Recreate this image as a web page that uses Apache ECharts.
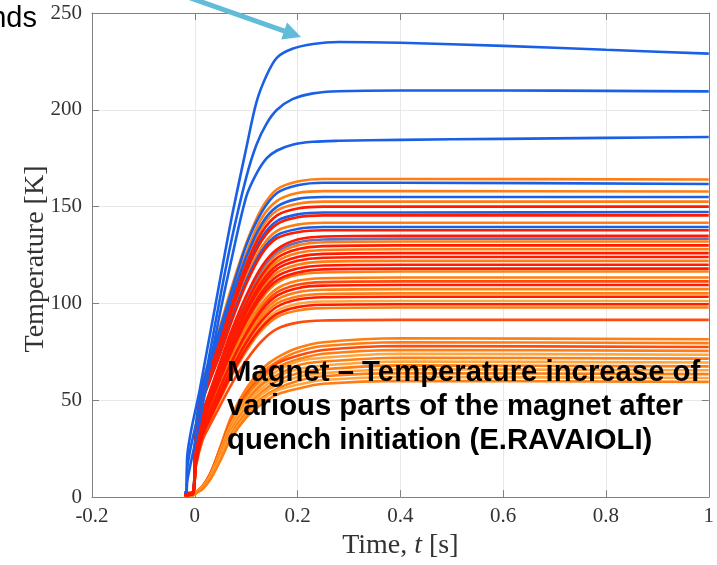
<!doctype html>
<html>
    <head>
        <meta charset="utf-8">
        <title>Magnet temperature</title>
        <style>
            html, body { margin: 0; padding: 0; background: #fff; }
            #main { width: 717px; height: 565px; }
        </style>
    </head>
    <body>
        <div id="main"></div>
        <script src="https://cdn.jsdelivr.net/npm/echarts@6/dist/echarts.min.js"></script>
        <script>
            // time samples [s]
            var tBlue = [-0.02, -0.016, -0.015, 0.01, 0.04, 0.07, 0.1, 0.12, 0.14, 0.16, 0.19, 0.23, 0.28, 0.4, 0.6, 0.8, 1.0];
            var tRise = [-0.02, -0.004, 0.002, 0.015, 0.03, 0.05, 0.07, 0.1, 0.13, 0.16, 0.2, 0.25, 0.4, 1.0];

            // hottest parts (blue, early start)
            var blue235 = [2, 3, 20, 56, 99, 142, 180, 204, 218, 227, 231.5, 234, 235, 234.6, 233, 231, 229];
            var blue210 = [2, 3, 14, 47, 90, 131, 165, 182, 193, 200, 205.5, 208.5, 209.6, 210, 210, 209.8, 209.5];
            var blue186 = [2, 3, 8, 40, 83, 121, 155, 167, 175, 179, 182, 183.5, 184, 184.5, 185, 185.5, 186];

            // blue curves inside the bundle
            var blue162 = [2, 2.4, 35.6, 58, 71, 87.5, 105, 130, 147, 157, 161, 162.3, 162.3, 161.7];
            var blue155 = [2, 2.3, 34, 56, 68, 84, 101, 124, 141, 150, 154, 155, 155, 155];
            var blue147 = [2, 2.2, 32.3, 53, 64.7, 79, 95.5, 117.6, 134, 142.6, 146, 147, 147, 147.2];
            var blue139 = [2, 2.1, 30.7, 50, 61, 75, 90.7, 111.6, 127, 135.3, 138.5, 139.5, 139.5, 139.5];
            var slate133 = [1.3, 2, 22.7, 42.7, 54.7, 69.4, 84, 102.8, 117.5, 126.8, 131.5, 133, 133.5, 133.5];

            // upper orange/red curves
            var or164 = [2, 2.5, 36, 59, 72, 89, 107, 131, 149, 159, 163, 164.3, 164.3, 164];
            var or158 = [2, 2.4, 34.8, 57, 69.5, 85, 103, 126, 144, 153, 157, 158, 158, 157.8];
            var or152 = [2, 2.3, 33.6, 55, 67, 82, 99, 122, 139, 148, 151.5, 152.6, 152.6, 152.6];
            var rd150 = [2, 2.3, 33, 54, 66, 81, 97.5, 120, 136.5, 145.5, 149, 150, 150, 150];
            var rd145 = [2, 2.2, 32, 52, 64, 78.6, 94.6, 116.4, 132.4, 141, 144.5, 145.5, 145.5, 145.5];
            var or141 = [2, 2.1, 31, 51, 62, 76.5, 92, 113, 129, 137.5, 140.7, 141.7, 141.7, 141.7];
            var rd137 = [2, 2.1, 30.3, 49.6, 60.6, 74.4, 89.6, 110, 125.4, 133.7, 136.8, 137.8, 137.8, 137.8];

            // dense band and middle curves
            var rd135 = [1.4, 2, 23, 43, 55, 70, 85, 104, 119, 128, 133, 134.6, 135, 135];
            var or132 = [1.3, 2, 22.4, 42.2, 54, 68.6, 83, 101.6, 116, 125.4, 130, 131.6, 132, 132];
            var rd130 = [1.3, 2, 22, 41.6, 53.3, 67.6, 82, 100, 114.4, 123.5, 128, 129.6, 130, 130];
            var or128 = [1.3, 2, 21.8, 41, 52.5, 66.6, 80.6, 98.6, 112.6, 121.6, 126, 127.6, 128, 128];
            var rd126 = [1.3, 2, 21.4, 40.3, 51.7, 65.5, 79.4, 97, 111, 119.7, 124, 125.6, 126, 126];
            var rd124 = [1.2, 1.9, 21, 39.7, 50.8, 64.5, 78, 95.5, 109, 117.8, 122, 123.6, 124, 124];
            var or122 = [1.2, 1.8, 20.7, 39, 50, 63.4, 76.9, 94, 107.4, 115.9, 120, 121.6, 122, 122];
            var rd120 = [1.2, 1.8, 20.4, 38.4, 49.2, 62.4, 75.6, 92.4, 105.6, 114, 118, 119.6, 120, 120];
            var rd118 = [1.2, 1.8, 20, 37.8, 48.4, 61.4, 74.3, 90.9, 103.8, 112, 116, 117.6, 118, 118];
            var or116 = [1.2, 1.7, 19.8, 37.3, 47.8, 60.6, 73.4, 89.7, 102.5, 110.7, 114.8, 116, 116.5, 116.5];
            var or113 = [1.1, 1.7, 19.3, 36.3, 46.5, 59, 71.4, 87.3, 99.8, 107.7, 111.7, 113, 113.4, 113.4];
            var ord111 = [1.1, 1.7, 18.9, 35.6, 45.7, 57.9, 70.2, 85.8, 98, 105.8, 109.7, 111, 111.4, 111.4];
            var rd109 = [1.1, 1.6, 18.6, 35, 44.9, 57, 69, 84.3, 96.4, 104, 107.9, 109.2, 109.5, 109.5];
            var or107 = [1.1, 1.6, 18.3, 34.4, 44, 55.8, 67.7, 82.7, 94.5, 102, 105.8, 107.1, 107.4, 107.4];
            var or105 = [1.1, 1.6, 17.9, 33.7, 43.1, 54.7, 66.3, 81, 92.6, 100, 103.6, 104.9, 105.2, 105.2];
            var rd103 = [1, 1.6, 17.6, 33.1, 42.4, 53.8, 65.2, 79.7, 91, 98.3, 102, 103.2, 103.5, 103.5];
            var lt101 = [1, 1.5, 17.2, 32.4, 41.5, 52.7, 63.8, 78, 89.1, 96.2, 99.8, 101, 101.3, 101.3];
            var rd99 = [1, 1.5, 16.9, 31.9, 40.8, 51.8, 62.7, 76.7, 87.6, 94.6, 98.1, 99.3, 99.6, 99.6];
            var or98 = [1, 1.5, 16.6, 31.3, 40.1, 50.9, 61.7, 75.4, 86.2, 93, 96.4, 97.6, 97.9, 97.9];
            var rd91 = [1, 1.4, 15.6, 29.3, 37.5, 47.6, 57.6, 70.5, 80.5, 86.9, 90.1, 91.2, 91.5, 91.5];

            // coolest band (slow start)
            var or82 = [1, 1, 2.5, 5.7, 12, 26, 41, 56, 66, 72, 77, 80, 82, 81.5];
            var or80 = [1, 1, 2.4, 5.6, 12, 26, 40, 54, 64, 70, 75, 78, 80, 79.5];
            var ord78 = [1, 1, 2.3, 5.5, 12, 25, 39, 53, 62, 69, 73, 76, 78, 77.5];
            var or76 = [1, 1, 2.3, 5.3, 11, 24, 38, 52, 61, 67, 71, 74, 76, 75.5];
            var lt74 = [1, 1, 2.2, 5.2, 11, 24, 37, 50, 59, 65, 70, 72, 74, 73.5];
            var or72 = [1, 1, 2.2, 5, 11, 23, 36, 49, 58, 63, 68, 70, 72, 71.5];
            var lt70 = [1, 1, 2.1, 4.9, 10.5, 22, 35, 48, 56, 62, 66, 68, 70, 69.5];
            var or68 = [1, 1, 2, 4.8, 10, 22, 34, 46, 54, 60, 64, 66, 68, 67.5];
            var lt66 = [1, 1, 2, 4.6, 10, 21, 33, 45, 53, 58, 62, 64, 66, 65.5];
            var or64 = [1, 1, 2, 4.5, 9.6, 20, 32, 43.5, 51, 56, 60, 62.4, 64, 63.5];
            var lt62 = [1, 1, 2, 4.3, 9.3, 20, 31, 42, 50, 55, 58, 60.5, 62, 61.5];
            var or60 = [1, 1, 2, 4.2, 9, 19, 30, 41, 48, 53, 56, 58.5, 60, 59.5];

            var xTicks = [-0.2, 0, 0.2, 0.4, 0.6, 0.8, 1];
            var yTicks = [0, 50, 100, 150, 200, 250];

            var colors = {
                blue: '#1a60e6',
                slate: '#6b6fb5',
                orange: '#ff7d12',
                red: '#ff1a00',
                orangeRed: '#ff4a0a',
                light: '#ffa63e'
            };

            // drawing order: first drawn lies underneath
            var curves = [
                [tRise, or82, 'orange'], [tRise, or80, 'orange'], [tRise, ord78, 'orangeRed'],
                [tRise, or76, 'orange'], [tRise, lt74, 'light'], [tRise, or72, 'orange'],
                [tRise, lt70, 'light'], [tRise, or68, 'orange'], [tRise, lt66, 'light'],
                [tRise, or64, 'orange'], [tRise, lt62, 'light'], [tRise, or60, 'orange'],
                [tRise, or98, 'orange'], [tRise, lt101, 'light'], [tRise, or105, 'orange'],
                [tRise, or107, 'orange'], [tRise, ord111, 'orangeRed'], [tRise, or113, 'orange'],
                [tRise, or116, 'orange'], [tRise, or122, 'orange'], [tRise, or128, 'orange'],
                [tRise, or132, 'orange'], [tRise, or141, 'orange'], [tRise, or152, 'orange'],
                [tRise, or158, 'orange'], [tRise, or164, 'orange'],
                [tRise, slate133, 'slate'], [tRise, blue139, 'blue'], [tRise, blue147, 'blue'],
                [tRise, blue155, 'blue'], [tRise, blue162, 'blue'],
                [tRise, rd91, 'orangeRed'], [tRise, rd99, 'red'], [tRise, rd103, 'red'],
                [tRise, rd109, 'red'], [tRise, rd118, 'red'], [tRise, rd120, 'red'],
                [tRise, rd124, 'red'], [tRise, rd126, 'red'], [tRise, rd130, 'red'],
                [tRise, rd135, 'red'], [tRise, rd137, 'red'], [tRise, rd145, 'red'],
                [tRise, rd150, 'red'],
                [tBlue, blue186, 'blue'], [tBlue, blue210, 'blue'], [tBlue, blue235, 'blue']
            ];

            var series = curves.map(function (c) {
                return {
                    type: 'line',
                    data: c[0].map(function (t, i) { return [t, c[1][i]]; }),
                    showSymbol: false,
                    smooth: 0.3,
                    silent: true,
                    lineStyle: { color: colors[c[2]], width: 2.6 },
                    z: 2
                };
            });

            var axisGray = '#808080';
            var serif = '"Liberation Serif", "Times New Roman", serif';

            function frameAxis(extra) {
                var a = {
                    type: 'value',
                    axisLine: { show: true, onZero: false, lineStyle: { color: axisGray } },
                    axisTick: { show: true, inside: true, length: 7, lineStyle: { color: axisGray } },
                    axisLabel: { show: false },
                    splitLine: { show: false }
                };
                for (var k in extra) { a[k] = extra[k]; }
                return a;
            }

            var chart = echarts.init(document.getElementById('main'));
            chart.setOption({
                animation: false,
                grid: { left: 92, right: 7, top: 13, bottom: 65 },
                xAxis: [
                    frameAxis({
                        min: xTicks[0],
                        max: xTicks[xTicks.length - 1],
                        interval: 0.2,
                        splitLine: { show: true, lineStyle: { color: '#e8e8e8' } },
                        axisLabel: {
                            margin: 9, color: '#333', fontFamily: serif, fontSize: 21,
                            formatter: function (v) { return String(Math.round(v * 10) / 10); }
                        },
                        name: 'Time, {i|t} [s]',
                        nameLocation: 'middle',
                        nameGap: 27,
                        nameTextStyle: {
                            color: '#333', fontFamily: serif, fontSize: 28,
                            rich: { i: { fontFamily: serif, fontStyle: 'italic', fontSize: 28, color: '#333' } }
                        }
                    }),
                    frameAxis({
                        position: 'top',
                        min: xTicks[0],
                        max: xTicks[xTicks.length - 1],
                        interval: 0.2
                    })
                ],
                yAxis: [
                    frameAxis({
                        min: yTicks[0],
                        max: yTicks[yTicks.length - 1],
                        interval: 50,
                        splitLine: { show: true, lineStyle: { color: '#e8e8e8' } },
                        axisLabel: { margin: 10, color: '#333', fontFamily: serif, fontSize: 21 }
                    }),
                    frameAxis({
                        position: 'right',
                        min: yTicks[0],
                        max: yTicks[yTicks.length - 1],
                        interval: 50
                    })
                ],
                series: series,
                graphic: [
                    {
                        type: 'text',
                        x: 50, y: 259,
                        rotation: Math.PI / 2,
                        z: 20,
                        style: {
                            text: 'Temperature [K]',
                            font: '28px "Liberation Serif", "Times New Roman", serif',
                            fill: '#333',
                            textAlign: 'center',
                            textVerticalAlign: 'bottom'
                        }
                    },
                    {
                        type: 'text',
                        x: 37, y: 4,
                        z: 20,
                        style: {
                            text: 'nds',
                            font: '29px "Liberation Sans", Arial, sans-serif',
                            fill: '#000',
                            textAlign: 'right',
                            textVerticalAlign: 'top'
                        }
                    },
                    {
                        type: 'line',
                        z: 20,
                        shape: { x1: 182, y1: -5, x2: 284.5, y2: 31.2 },
                        style: { stroke: '#62bcd9', lineWidth: 5 }
                    },
                    {
                        type: 'polygon',
                        z: 20,
                        shape: { points: [[301, 37], [281.2, 39.5], [287, 22.5]] },
                        style: { fill: '#62bcd9' }
                    },
                    {
                        type: 'text',
                        x: 227, y: 356,
                        z: 20,
                        style: {
                            text: 'Magnet \u2013 Temperature increase of\nvarious parts of the magnet after\nquench initiation (E.RAVAIOLI)',
                            font: 'bold 29.3px "Liberation Sans", Arial, sans-serif',
                            lineHeight: 34,
                            fill: '#000',
                            textAlign: 'left',
                            textVerticalAlign: 'top'
                        }
                    }
                ]
            });
        </script>
    </body>
</html>
